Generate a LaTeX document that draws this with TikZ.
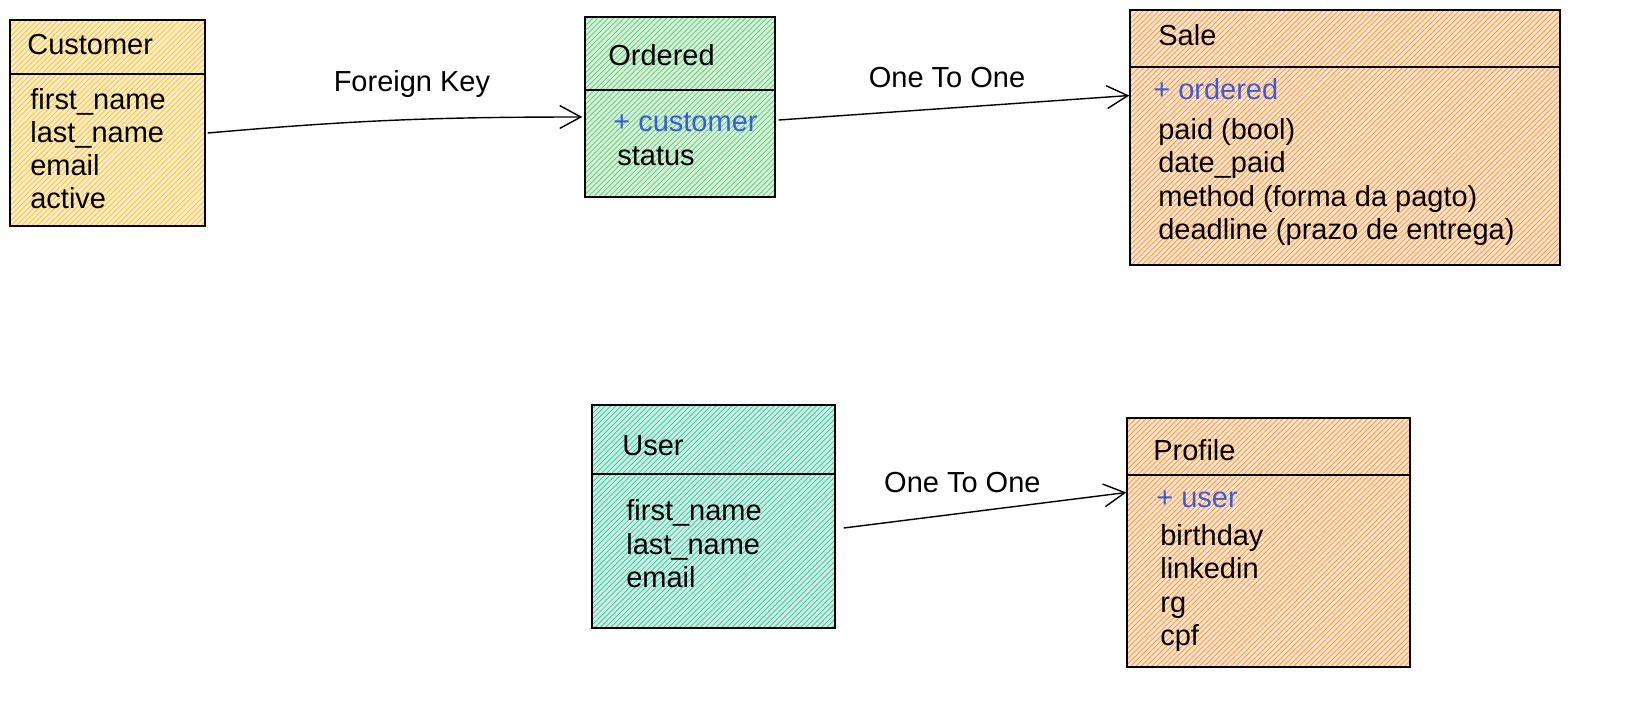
\documentclass[tikz,border=0pt]{standalone}
\usepackage{fontspec}
\setmainfont{Liberation Sans}
\usetikzlibrary{arrows.meta,patterns,calc}

\definecolor{hyellow}{RGB}{250,176,5}
\definecolor{hgreen}{RGB}{64,192,87}
\definecolor{hteal}{RGB}{18,184,134}
\definecolor{horange}{RGB}{253,126,20}
\definecolor{fkblue}{RGB}{59,91,219}

\begin{document}
\begin{tikzpicture}[x=0.02cm,y=-0.02cm,
    font=\fontsize{16.5}{19}\selectfont,
    entity/.style={draw,line width=0.8pt,preaction={fill=#1!22},
      pattern=north east lines,pattern color=#1!85},
    field/.style={anchor=west,inner sep=0pt,text height=12pt,text depth=3.5pt},
    key/.style={field,text=fkblue},
    link/.style={line width=0.8pt,-{Straight Barb[length=12pt,width=13pt]}}]

      \useasboundingbox (0,0) rectangle (1648,711);

      % Customer
      \node[entity=hyellow,minimum width=3.9cm,minimum height=4.12cm] (cust) at (107.5,123) {};
      \draw[line width=0.8pt] (10,74) -- (205,74);
      \node[field] (custT) at (27,47) {Customer};
      \node[field] (cust1) at (30,102) {first\_name};
      \node[field] (cust2) at (30,135) {last\_name};
      \node[field] (cust3) at (30,168) {email};
      \node[field] (cust4) at (30,201) {active};

      % Ordered
      \node[entity=hgreen,minimum width=3.8cm,minimum height=3.6cm] (ord) at (680,107) {};
      \draw[line width=0.8pt] (585,90) -- (775,90);
      \node[field] (ordT) at (608,58) {Ordered};
      \node[key] (ord1) at (613,124) {+ customer};
      \node[field] (ord2) at (617,158) {status};

      % Sale
      \node[entity=horange,minimum width=8.6cm,minimum height=5.1cm] (sale) at (1345,137.5) {};
      \draw[line width=0.8pt] (1130,67) -- (1560,67);
      \node[field] (saleT) at (1158,38) {Sale};
      \node[key] (sale1) at (1153,92) {+ ordered};
      \node[field] (sale2) at (1158,132) {paid (bool)};
      \node[field] (sale3) at (1158,165) {date\_paid};
      \node[field] (sale4) at (1158,199) {method (forma da pagto)};
      \node[field] (sale5) at (1158,232) {deadline (prazo de entrega)};

      % User
      \node[entity=hteal,minimum width=4.86cm,minimum height=4.46cm] (user) at (713.5,516.5) {};
      \draw[line width=0.8pt] (592,474) -- (835,474);
      \node[field] (userT) at (622,448) {User};
      \node[field] (user1) at (626,513) {first\_name};
      \node[field] (user2) at (626,547) {last\_name};
      \node[field] (user3) at (626,580) {email};

      % Profile
      \node[entity=horange,minimum width=5.66cm,minimum height=4.98cm] (prof) at (1268.5,542.5) {};
      \draw[line width=0.8pt] (1127,475) -- (1410,475);
      \node[field] (profT) at (1153,453) {Profile};
      \node[key] (prof1) at (1156,500) {+ user};
      \node[field] (prof2) at (1160,538) {birthday};
      \node[field] (prof3) at (1160,571) {linkedin};
      \node[field] (prof4) at (1160,605) {rg};
      \node[field] (prof5) at (1160,638) {cpf};

      % relations
      \draw[link] ($(cust.east)+(2,10)$) to[out=5,in=180]
        node[pos=0.55,above=9pt] {Foreign Key} ($(ord.west)+(-2,10)$);
      \draw[link] ($(ord.east)+(3,13)$) --
        node[pos=0.48,above=8pt] {One To One} ($(sale.west)+(0,-42)$);
      \draw[link] ($(user.east)+(8,11.5)$) --
        node[pos=0.42,above=8pt] {One To One} ($(prof.west)+(0,-50)$);

\end{tikzpicture}
\end{document}
